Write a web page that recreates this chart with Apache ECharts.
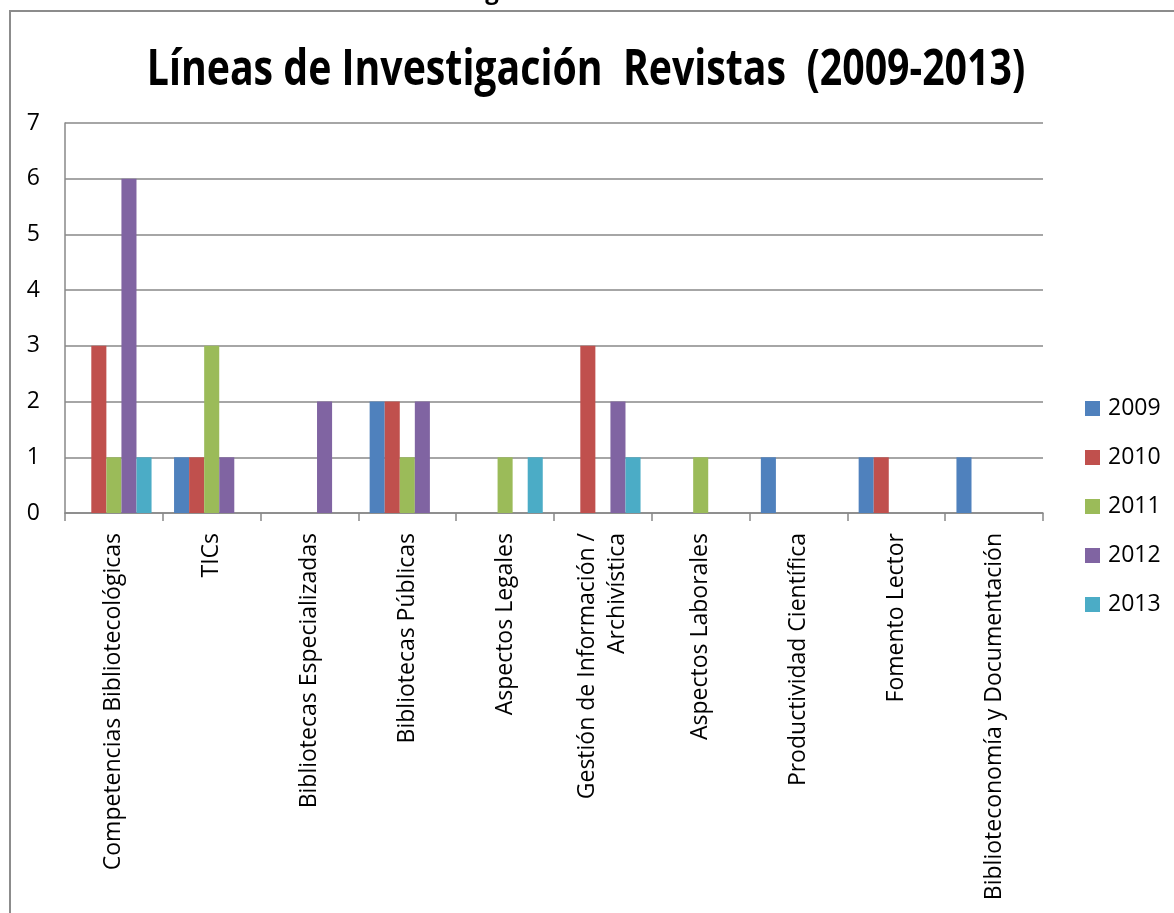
<!DOCTYPE html>
<html>
<head>
<meta charset="utf-8">
<script src="https://cdn.jsdelivr.net/npm/echarts@6/dist/echarts.min.js"></script>
<style>
html,body{margin:0;padding:0;background:#fff;}
#chart{width:1174px;height:913px;}
</style>
</head>
<body>
<div id="chart"></div>
<script>
const categories = [
  "Competencias Bibliotecológicas",
  "TICs",
  "Bibliotecas Especializadas",
  "Bibliotecas Públicas",
  "Aspectos Legales",
  "Gestión de Información /\nArchivística",
  "Aspectos Laborales",
  "Productividad Científica",
  "Fomento Lector",
  "Biblioteconomía y Documentación"
];
const seriesNames = ["2009", "2010", "2011", "2012", "2013"];
const values2009 = [0, 1, 0, 2, 0, 0, 0, 1, 1, 1];
const values2010 = [3, 1, 0, 2, 0, 3, 0, 0, 1, 0];
const values2011 = [1, 3, 0, 1, 1, 0, 1, 0, 0, 0];
const values2012 = [6, 1, 2, 2, 0, 2, 0, 0, 0, 0];
const values2013 = [1, 0, 0, 0, 1, 1, 0, 0, 0, 0];
const yTicks = [0, 1, 2, 3, 4, 5, 6, 7];
const titleText = "Líneas de Investigación  Revistas  (2009-2013)";

const colors = ["#4F81BD", "#C0504D", "#9BBB59", "#8064A2", "#4BACC6"];
const allValues = [values2009, values2010, values2011, values2012, values2013];
const font = "'Open Sans', sans-serif";

const chart = echarts.init(document.getElementById('chart'), null, {renderer: 'canvas'});
chart.setOption({
  animation: false,
  backgroundColor: '#fff',
  color: colors,
  graphic: [
    {
      type: 'rect',
      shape: {x: 10, y: 11, width: 1300, height: 1000},
      style: {fill: 'none', stroke: '#8c8c8c', lineWidth: 2},
      silent: true,
      z: -1
    },
    {
      type: 'text',
      x: 492, y: 4,
      style: {text: 'g', fontSize: 24, fontWeight: 'bold', fontFamily: font, fill: '#000', align: 'center', verticalAlign: 'bottom'},
      silent: true
    },
    {
      type: 'text',
      x: 586, y: 71,
      scaleX: 0.785,
      style: {text: titleText, fontSize: 50, fontWeight: 'bold', fontFamily: font, fill: '#000', align: 'center', verticalAlign: 'middle'},
      silent: true
    }
  ],
  legend: {
    orient: 'vertical',
    left: 1085,
    top: 397,
    padding: 0,
    itemWidth: 15,
    itemHeight: 15,
    itemGap: 26,
    icon: 'rect',
    data: seriesNames,
    textStyle: {fontFamily: font, fontSize: 23, color: '#000', padding: [0, 0, 0, 3]}
  },
  grid: {left: 65, right: 131, top: 123, bottom: 400, containLabel: false},
  xAxis: {
    type: 'category',
    data: categories,
    boundaryGap: true,
    axisLine: {show: true, lineStyle: {color: '#888', width: 1.5}},
    axisTick: {show: true, interval: 0, length: 8, lineStyle: {color: '#888', width: 1.5}},
    axisLabel: {
      interval: 0,
      rotate: 90,
      margin: 20,
      fontFamily: font,
      fontSize: 23,
      color: '#000',
      lineHeight: 30
    }
  },
  yAxis: {
    type: 'value',
    min: 0,
    max: 7,
    interval: 1,
    axisLine: {show: true, lineStyle: {color: '#888', width: 1.5}},
    axisTick: {show: false},
    splitLine: {show: true, lineStyle: {color: '#888', width: 1.5}},
    axisLabel: {
      margin: 25,
      fontFamily: font,
      fontSize: 23,
      color: '#000',
      formatter: function (v) { return yTicks.indexOf(v) >= 0 ? String(v) : ''; }
    }
  },
  series: seriesNames.map(function (name, i) {
    return {
      name: name,
      type: 'bar',
      data: allValues[i],
      barGap: '0%',
      barCategoryGap: '23%',
      itemStyle: {color: colors[i]}
    };
  })
});
</script>
</body>
</html>
